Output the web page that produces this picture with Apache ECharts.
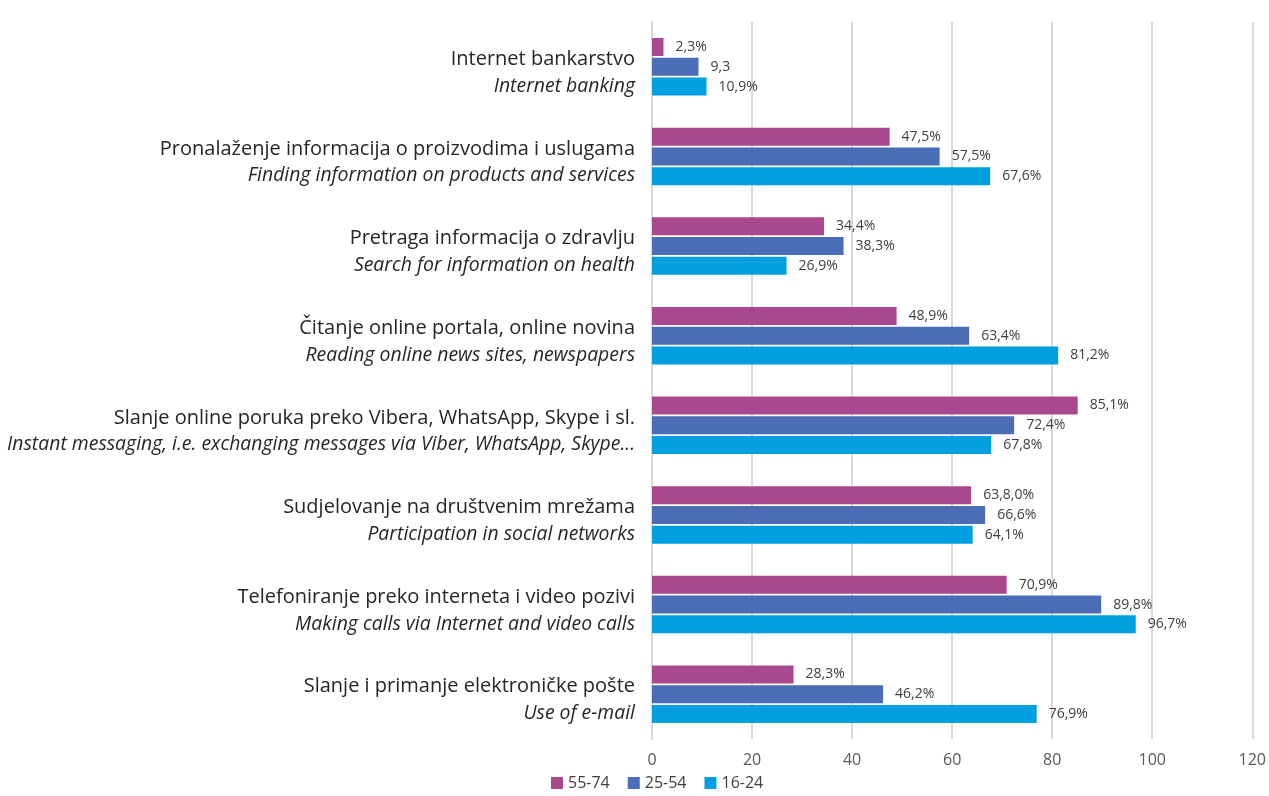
<!DOCTYPE html>
<html>
<head>
<meta charset="utf-8">
<script src="https://cdn.jsdelivr.net/npm/echarts@6/dist/echarts.min.js"></script>
<style>
html,body{margin:0;padding:0;background:#fff;}
#chart{width:1269px;height:796px;}
</style>
</head>
<body>
<div id="chart"></div>
<script>
const categoriesHr = [
  "Internet bankarstvo",
  "Pronalaženje informacija o proizvodima i uslugama",
  "Pretraga informacija o zdravlju",
  "Čitanje online portala, online novina",
  "Slanje online poruka preko Vibera, WhatsApp, Skype i sl.",
  "Sudjelovanje na društvenim mrežama",
  "Telefoniranje preko interneta i video pozivi",
  "Slanje i primanje elektroničke pošte"
];
const categoriesEn = [
  "Internet banking",
  "Finding information on products and services",
  "Search for information on health",
  "Reading online news sites, newspapers",
  "Instant messaging, i.e. exchanging messages via Viber, WhatsApp, Skype...",
  "Participation in social networks",
  "Making calls via Internet and video calls",
  "Use of e-mail"
];
const seriesNames = ["55-74", "25-54", "16-24"];
const values5574 = [2.3, 47.5, 34.4, 48.9, 85.1, 63.8, 70.9, 28.3];
const values2554 = [9.3, 57.5, 38.3, 63.4, 72.4, 66.6, 89.8, 46.2];
const values1624 = [10.9, 67.6, 26.9, 81.2, 67.8, 64.1, 96.7, 76.9];
const labels5574 = ["2,3%", "47,5%", "34,4%", "48,9%", "85,1%", "63,8,0%", "70,9%", "28,3%"];
const labels2554 = ["9,3", "57,5%", "38,3%", "63,4%", "72,4%", "66,6%", "89,8%", "46,2%"];
const labels1624 = ["10,9%", "67,6%", "26,9%", "81,2%", "67,8%", "64,1%", "96,7%", "76,9%"];
const xTicks = [0, 20, 40, 60, 80, 100, 120];
const colors = ["#A9488E", "#4A6DB5", "#009FDF"];

const categories = categoriesHr.map((c, i) => c + "\n" + categoriesEn[i]);
const allValues = [values5574, values2554, values1624];
const allLabels = [labels5574, labels2554, labels1624];

const chart = echarts.init(document.getElementById('chart'));
const option = {
  animation: false,
  color: colors,
  textStyle: { fontFamily: "Open Sans" },
  grid: { left: 652, right: 16, top: 22, bottom: 57, containLabel: false },
  legend: {
    data: seriesNames,
    bottom: 0,
    left: 546,
    icon: 'rect',
    itemWidth: 12,
    itemHeight: 12,
    itemGap: 18,
    textStyle: { fontSize: 16, color: '#404040', fontFamily: "Open Sans" }
  },
  xAxis: {
    type: 'value',
    min: xTicks[0],
    max: xTicks[xTicks.length - 1],
    interval: 20,
    axisLine: { show: false },
    axisTick: { show: false },
    axisLabel: { fontSize: 16, color: '#595959', margin: 13 },
    splitLine: { show: true, lineStyle: { color: '#d9d9d9', width: 2 } }
  },
  yAxis: {
    type: 'category',
    inverse: true,
    data: categories,
    axisLine: { show: true, lineStyle: { color: '#d9d9d9', width: 2 } },
    axisTick: { show: false },
    axisLabel: {
      margin: 17,
      padding: [12, 0, 0, 0],
      formatter: function (v) {
        const p = v.split("\n");
        return "{a|" + p[0] + "}\n{b|" + p[1] + "}";
      },
      rich: {
        a: { fontSize: 20, color: '#262626', lineHeight: 27, align: 'right', fontFamily: "Open Sans" },
        b: { fontSize: 19.4, color: '#262626', lineHeight: 27, align: 'right', fontStyle: 'italic', fontFamily: "Open Sans" }
      }
    }
  },
  series: seriesNames.map((name, si) => ({
    name: name,
    type: 'bar',
    barWidth: 18,
    barGap: '10%',
    data: allValues[si],
    itemStyle: { color: colors[si] },
    label: {
      show: true,
      position: 'right',
      distance: 12,
      fontSize: 14,
      color: '#404040',
      formatter: function (p) { return allLabels[si][p.dataIndex]; }
    }
  }))
};
chart.setOption(option);
</script>
</body>
</html>
